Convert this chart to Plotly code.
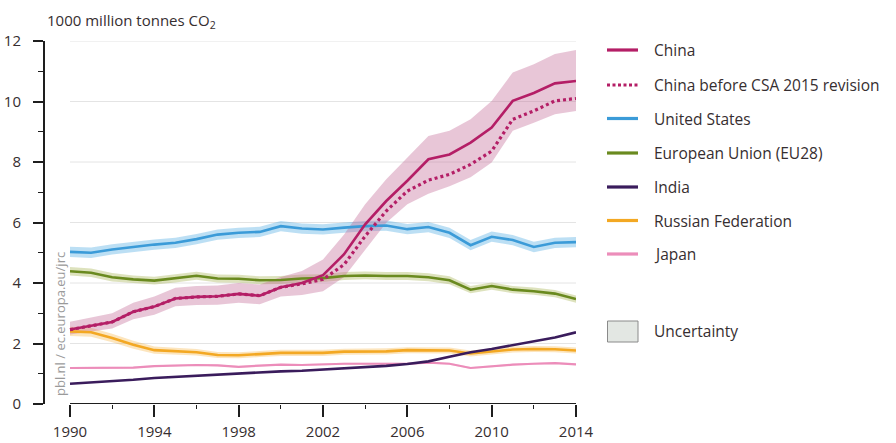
import plotly.graph_objects as go

years = list(range(1990, 2015))

china = [2.46, 2.58, 2.71, 3.05, 3.22, 3.49, 3.54, 3.56, 3.64, 3.58, 3.86, 4.00, 4.26,
         4.95, 5.94, 6.71, 7.38, 8.09, 8.25, 8.64, 9.14, 10.02, 10.28, 10.60, 10.68]
china_old = [2.46, 2.58, 2.71, 3.05, 3.22, 3.49, 3.54, 3.56, 3.64, 3.58, 3.86, 3.97, 4.12,
             4.61, 5.55, 6.38, 7.04, 7.40, 7.59, 7.92, 8.36, 9.41, 9.69, 10.02, 10.10]
china_upper = [2.72, 2.85, 3.00, 3.35, 3.55, 3.84, 3.90, 3.92, 4.00, 3.95, 4.20, 4.40, 4.78,
               5.60, 6.60, 7.43, 8.15, 8.86, 9.03, 9.41, 10.02, 10.96, 11.23, 11.57, 11.70]
china_lower = [2.30, 2.40, 2.50, 2.80, 2.95, 3.23, 3.27, 3.28, 3.35, 3.30, 3.55, 3.60, 3.73,
               4.20, 5.11, 5.99, 6.60, 6.95, 7.20, 7.50, 7.98, 9.03, 9.30, 9.58, 9.69]
usa = [5.03, 5.00, 5.11, 5.20, 5.27, 5.33, 5.45, 5.60, 5.66, 5.69, 5.88, 5.80, 5.77,
       5.83, 5.88, 5.90, 5.78, 5.85, 5.66, 5.25, 5.53, 5.42, 5.19, 5.33, 5.35]
usa_unc = [0.17, 0.17, 0.17, 0.17, 0.17, 0.17, 0.17, 0.17, 0.17, 0.17, 0.17, 0.17, 0.17,
           0.17, 0.17, 0.17, 0.17, 0.17, 0.17, 0.17, 0.17, 0.17, 0.17, 0.17, 0.17]
eu = [4.39, 4.34, 4.19, 4.12, 4.08, 4.15, 4.24, 4.15, 4.14, 4.09, 4.10, 4.15, 4.16,
      4.23, 4.25, 4.23, 4.23, 4.19, 4.09, 3.78, 3.90, 3.78, 3.73, 3.65, 3.47]
eu_unc = [0.14, 0.14, 0.14, 0.13, 0.13, 0.13, 0.13, 0.13, 0.13, 0.13, 0.13, 0.13, 0.13,
          0.13, 0.13, 0.13, 0.13, 0.13, 0.13, 0.12, 0.12, 0.12, 0.12, 0.12, 0.12]
india = [0.67, 0.71, 0.75, 0.80, 0.86, 0.90, 0.94, 0.97, 1.00, 1.05, 1.08, 1.10, 1.14,
         1.17, 1.21, 1.26, 1.32, 1.41, 1.56, 1.71, 1.82, 1.94, 2.07, 2.20, 2.37]
russia = [2.40, 2.37, 2.18, 1.96, 1.78, 1.75, 1.71, 1.62, 1.61, 1.65, 1.69, 1.69, 1.69,
          1.73, 1.73, 1.74, 1.78, 1.78, 1.77, 1.67, 1.73, 1.80, 1.82, 1.81, 1.77]
russia_unc = [0.15, 0.15, 0.14, 0.13, 0.12, 0.11, 0.11, 0.10, 0.10, 0.10, 0.10, 0.10, 0.10,
              0.10, 0.10, 0.10, 0.10, 0.10, 0.10, 0.10, 0.10, 0.10, 0.10, 0.10, 0.10]
japan = [1.19, 1.20, 1.20, 1.20, 1.25, 1.27, 1.29, 1.28, 1.23, 1.27, 1.30, 1.29, 1.32,
         1.33, 1.33, 1.34, 1.33, 1.37, 1.33, 1.19, 1.25, 1.30, 1.33, 1.35, 1.31]
japan_unc = [0.03, 0.03, 0.03, 0.03, 0.03, 0.03, 0.03, 0.03, 0.03, 0.03, 0.03, 0.03, 0.03,
             0.03, 0.03, 0.03, 0.03, 0.03, 0.03, 0.03, 0.03, 0.03, 0.03, 0.03, 0.03]

legend_names = ["China", "China before CSA 2015 revision", "United States",
                "European Union (EU28)", "India", "Russian Federation", "Japan"]
y_ticks = [0, 2, 4, 6, 8, 10, 12]
x_ticks = [1990, 1994, 1998, 2002, 2006, 2010, 2014]

C_CHINA = "#b41e66"
C_US = "#3b9bd8"
C_EU = "#6a8a1f"
C_INDIA = "#3a1c5c"
C_RUS = "#f3a823"
C_JAP = "#ec8dba"
TEXT = "#362e30"
FONT = "Open Sans"

# layout geometry (pixels)
W, H = 896, 443
L, R, T, B = 45, 576, 41, 404
X0_YEAR = 1990 - 25 / 21.08


def pxx(p):
    return (p - L) / (R - L)


def pxy(p):
    return (B - p) / (B - T)


fig = go.Figure()


def band(upper, lower, fillcolor):
    fig.add_trace(go.Scatter(x=years, y=upper, mode="lines", line=dict(width=0),
                             hoverinfo="skip", showlegend=False))
    fig.add_trace(go.Scatter(x=years, y=lower, mode="lines", line=dict(width=0),
                             fill="tonexty", fillcolor=fillcolor,
                             hoverinfo="skip", showlegend=False))


band([v + u for v, u in zip(usa, usa_unc)], [v - u for v, u in zip(usa, usa_unc)],
     "rgba(80,170,225,0.38)")
band([v + u for v, u in zip(eu, eu_unc)], [v - u for v, u in zip(eu, eu_unc)],
     "rgba(150,165,50,0.32)")
band([v + u for v, u in zip(russia, russia_unc)], [v - u for v, u in zip(russia, russia_unc)],
     "rgba(245,170,40,0.30)")
band([v + u for v, u in zip(japan, japan_unc)], [v - u for v, u in zip(japan, japan_unc)],
     "rgba(236,141,186,0.30)")
band(china_upper, china_lower, "rgba(195,105,150,0.38)")


def line(y, color, width=2.6, dash="solid", name=None):
    fig.add_trace(go.Scatter(x=years, y=y, mode="lines", name=name,
                             line=dict(color=color, width=width, dash=dash),
                             showlegend=False))


line(japan, C_JAP, 2.2, name="Japan")
line(russia, C_RUS, 2.6, name="Russian Federation")
line(india, C_INDIA, 2.6, name="India")
line(eu, C_EU, 2.6, name="European Union (EU28)")
line(usa, C_US, 2.6, name="United States")
line(china_old, C_CHINA, 3.2, dash="3px,3px", name="China before CSA 2015 revision")
line(china, C_CHINA, 2.6, name="China")

shapes = []
# horizontal gridlines from 1990 to 2014
for v in y_ticks[1:]:
    shapes.append(dict(type="line", xref="x", yref="y", x0=1990, x1=2014, y0=v, y1=v,
                       line=dict(color="#e4e4e4", width=1), layer="below"))
# x axis line
shapes.append(dict(type="line", xref="x", yref="y", x0=1990, x1=2014, y0=0, y1=0,
                   line=dict(color="#1e1e1e", width=2), layer="above"))

# manual legend
leg_colors = [C_CHINA, C_CHINA, C_US, C_EU, C_INDIA, C_RUS, C_JAP]
leg_dash = ["solid", "3px,2.5px", "solid", "solid", "solid", "solid", "solid"]
leg_y = [50, 85, 118.5, 153, 187, 220.5, 254]
annotations = []
for name, col, d, yy in zip(legend_names, leg_colors, leg_dash, leg_y):
    shapes.append(dict(type="line", xref="paper", yref="paper", x0=pxx(607), x1=pxx(638),
                       y0=pxy(yy), y1=pxy(yy), line=dict(color=col, width=3.2, dash=d)))
    annotations.append(dict(text=name, xref="paper", yref="paper", x=pxx(652), y=pxy(yy),
                            xanchor="left", yanchor="middle", showarrow=False,
                            font=dict(family=FONT, size=15.5, color=TEXT)))
shapes.append(dict(type="rect", xref="paper", yref="paper", x0=pxx(607.5), x1=pxx(638),
                   y0=pxy(342), y1=pxy(321), fillcolor="#e3e7e3",
                   line=dict(color="#8a8a8a", width=1)))
annotations.append(dict(text="Uncertainty", xref="paper", yref="paper", x=pxx(652), y=pxy(331),
                        xanchor="left", yanchor="middle", showarrow=False,
                        font=dict(family=FONT, size=15.5, color=TEXT)))

# unit title
annotations.append(dict(text="1000 million tonnes CO<sub>2</sub>", xref="paper", yref="paper",
                        x=pxx(45), y=pxy(21), xanchor="left", yanchor="middle", showarrow=False,
                        font=dict(family=FONT, size=15, color=TEXT)))
# source watermark
annotations.append(dict(text="pbl.nl / ec.europa.eu/jrc", xref="paper", yref="paper",
                        x=pxx(60), y=pxy(324), xanchor="center", yanchor="middle",
                        textangle=-90, showarrow=False,
                        font=dict(family=FONT, size=13, color="#9a9a9a")))

fig.update_layout(
    template="none",
    width=W, height=H,
    margin=dict(l=L, r=W - R, t=T, b=H - B, pad=0),
    paper_bgcolor="white", plot_bgcolor="white",
    showlegend=False,
    shapes=shapes, annotations=annotations,
    font=dict(family=FONT, color=TEXT),
    xaxis=dict(range=[X0_YEAR, 2014], showgrid=False, zeroline=False, showline=False,
               automargin=False,
               tickmode="array", tickvals=x_ticks, ticktext=[str(t) for t in x_ticks],
               ticks="outside", ticklen=12, tickwidth=1.5, tickcolor="#1e1e1e",
               ticklabelstandoff=2,
               minor=dict(tick0=1990, dtick=2, ticks="outside", ticklen=4, tickwidth=1.2,
                          tickcolor="#1e1e1e", showgrid=False),
               tickfont=dict(family=FONT, size=15, color=TEXT), fixedrange=True),
    yaxis=dict(range=[0, 12], showgrid=False, zeroline=False, showline=True,
               automargin=False,
               linecolor="#1e1e1e", linewidth=2,
               tickmode="array", tickvals=y_ticks,
               ticks="outside", ticklen=10, tickwidth=1.5, tickcolor="#1e1e1e",
               ticklabelstandoff=9,
               minor=dict(tick0=0, dtick=1, ticks="outside", ticklen=5, tickwidth=1.2,
                          tickcolor="#1e1e1e", showgrid=False),
               tickfont=dict(family=FONT, size=15, color=TEXT), fixedrange=True),
)

fig.write_html("out.html")
